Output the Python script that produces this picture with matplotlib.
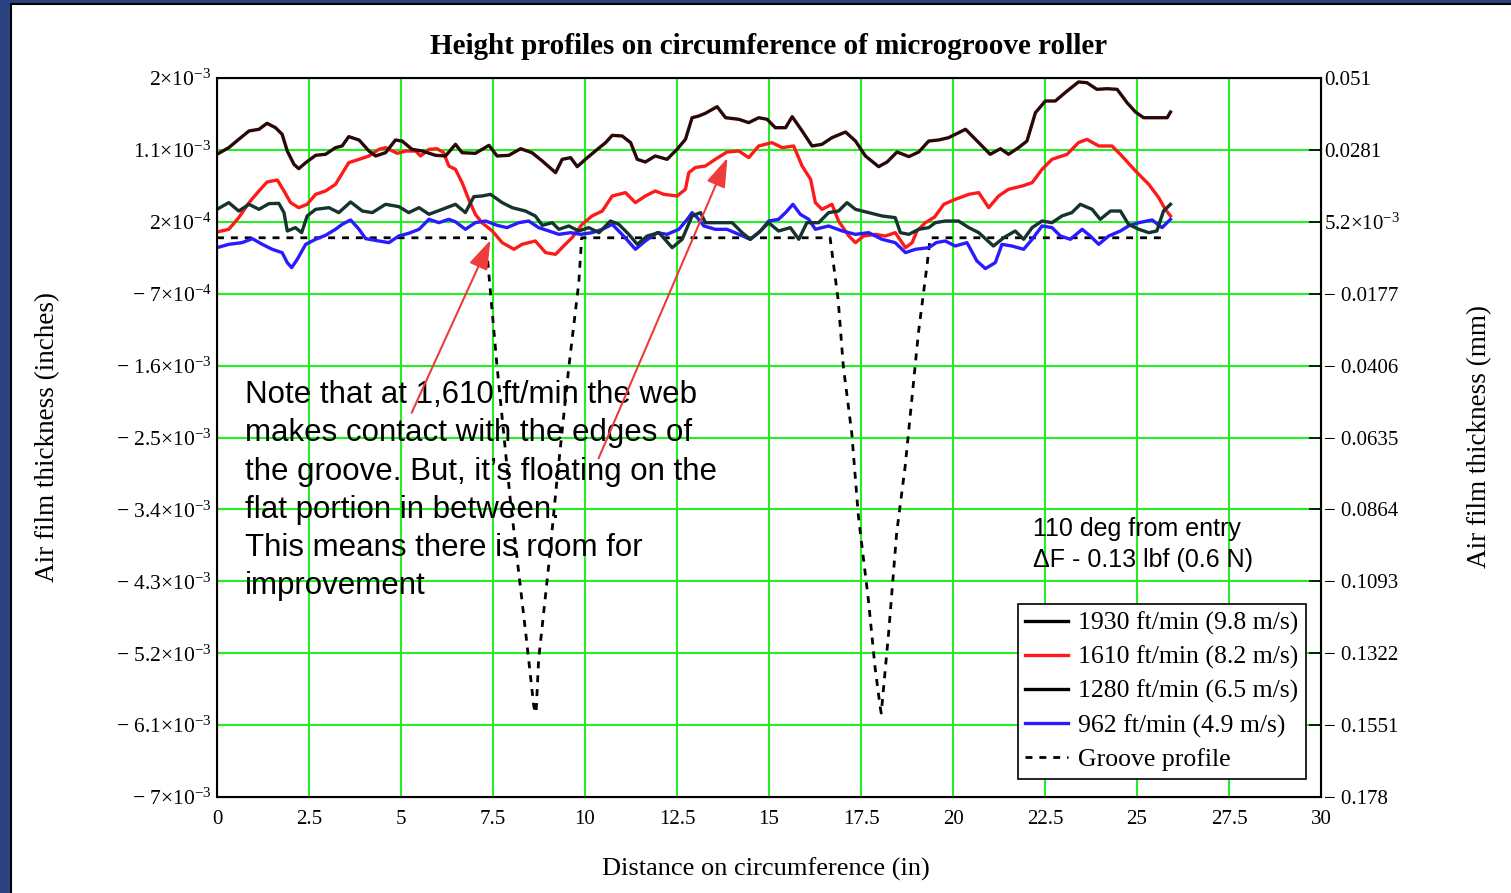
import matplotlib
matplotlib.use("Agg")
import matplotlib.pyplot as plt
from matplotlib.patches import Rectangle

plt.rcParams.update({
    "font.family": ["Liberation Serif", "DejaVu Serif"],
    "mathtext.fontset": "custom",
    "mathtext.rm": "Liberation Serif",
    "mathtext.it": "Liberation Serif:italic",
})

# values (x in inches, y in 1e-3 inch)
s1930_x = [0.0, 0.32, 0.59, 0.87, 1.14, 1.36, 1.59, 1.77, 1.91, 2.09, 2.22, 2.41, 2.68, 2.95, 3.22,
           3.40, 3.58, 3.86, 4.13, 4.31, 4.58, 4.85, 5.03, 5.30, 5.58, 5.94, 6.21, 6.48, 6.66, 7.02,
           7.39, 7.61, 7.93, 8.25, 8.56, 8.84, 9.20, 9.38, 9.61, 9.79, 10.01, 10.28, 10.56, 10.74, 11.01,
           11.24, 11.42, 11.64, 11.91, 12.23, 12.50, 12.73, 12.91, 13.09, 13.27, 13.59, 13.82, 14.18, 14.45, 14.72,
           14.95, 15.17, 15.45, 15.63, 15.90, 16.17, 16.44, 16.71, 17.08, 17.35, 17.62, 17.98, 18.21, 18.48, 18.80,
           19.07, 19.34, 19.61, 19.88, 20.34, 20.70, 21.01, 21.29, 21.51, 21.78, 22.01, 22.24, 22.51, 22.78, 23.10,
           23.41, 23.64, 23.91, 24.19, 24.46, 24.73, 24.96, 25.18, 25.50, 25.82, 25.91]
s1930_y = [1.045, 1.128, 1.232, 1.337, 1.358, 1.433, 1.378, 1.295, 1.086, 0.92, 0.865, 0.94, 1.032, 1.045, 1.128,
           1.149, 1.266, 1.224, 1.086, 1.024, 1.065, 1.224, 1.211, 1.107, 1.086, 1.032, 1.024, 1.17, 1.065, 1.057,
           1.157, 1.024, 1.032, 1.115, 1.065, 0.961, 0.815, 0.982, 1.003, 0.89, 0.982, 1.086, 1.191, 1.282, 1.274,
           1.191, 0.982, 0.949, 1.024, 0.982, 1.107, 1.232, 1.503, 1.524, 1.558, 1.641, 1.503, 1.483, 1.441, 1.503,
           1.483, 1.378, 1.378, 1.516, 1.337, 1.149, 1.17, 1.253, 1.324, 1.211, 1.024, 0.89, 0.949, 1.074, 1.016,
           1.074, 1.211, 1.224, 1.253, 1.358, 1.191, 1.045, 1.115, 1.045, 1.128, 1.211, 1.566, 1.712, 1.712, 1.837,
           1.95, 1.941, 1.858, 1.866, 1.858, 1.691, 1.574, 1.503, 1.503, 1.503, 1.574]

s1610_x = [0.0, 0.32, 0.59, 0.87, 1.14, 1.36, 1.64, 1.82, 2.0, 2.22, 2.45, 2.68, 2.95, 3.22, 3.58,
           3.86, 4.13, 4.40, 4.58, 4.90, 5.12, 5.40, 5.53, 5.76, 5.98, 6.16, 6.30, 6.48, 6.66, 6.84,
           7.02, 7.20, 7.48, 7.75, 8.07, 8.29, 8.65, 8.93, 9.20, 9.42, 9.65, 9.92, 10.19, 10.47, 10.74,
           11.10, 11.37, 11.64, 11.91, 12.14, 12.50, 12.73, 12.82, 13.0, 13.27, 13.54, 13.86, 14.18, 14.45, 14.72,
           15.08, 15.36, 15.67, 15.90, 16.13, 16.26, 16.44, 16.71, 16.89, 17.17, 17.35, 17.57, 17.89, 18.16, 18.43,
           18.71, 18.89, 19.02, 19.25, 19.50, 19.75, 20.06, 20.43, 20.70, 20.97, 21.24, 21.51, 21.88, 22.15, 22.42,
           22.69, 23.10, 23.41, 23.64, 23.96, 24.32, 24.59, 24.96, 25.32, 25.59, 25.77, 25.91]
s1610_y = [0.072, 0.106, 0.252, 0.44, 0.586, 0.698, 0.723, 0.586, 0.44, 0.377, 0.419, 0.544, 0.586, 0.669, 0.94,
           0.982, 1.024, 1.107, 1.128, 1.057, 1.086, 1.086, 1.024, 1.107, 1.115, 1.065, 0.898, 0.857, 0.69, 0.481,
           0.294, 0.189, 0.085, -0.061, -0.144, -0.082, -0.04, -0.186, -0.207, -0.103, 0.002, 0.168, 0.273, 0.335, 0.523,
           0.565, 0.44, 0.523, 0.586, 0.544, 0.523, 0.607, 0.815, 0.88, 0.898, 0.982, 1.074, 1.086, 1.003, 1.149,
           1.191, 1.128, 1.149, 0.898, 0.732, 0.44, 0.356, 0.419, 0.21, 0.022, -0.061, 0.022, 0.043, 0.022, 0.064,
           -0.124, -0.061, 0.085, 0.189, 0.26, 0.419, 0.481, 0.544, 0.565, 0.377, 0.523, 0.607, 0.648, 0.69, 0.857,
           0.982, 1.045, 1.191, 1.232, 1.149, 1.149, 1.024, 0.836, 0.669, 0.502, 0.356, 0.273]

s1280_x = [0.0, 0.32, 0.59, 0.87, 1.14, 1.41, 1.68, 1.82, 1.91, 2.13, 2.30, 2.45, 2.68, 3.04, 3.31,
           3.63, 3.95, 4.22, 4.58, 4.94, 5.21, 5.49, 5.76, 6.12, 6.48, 6.75, 6.98, 7.20, 7.43, 7.75,
           8.02, 8.38, 8.65, 8.84, 9.11, 9.29, 9.56, 9.83, 10.10, 10.38, 10.69, 10.92, 11.19, 11.42, 11.69,
           12.01, 12.37, 12.64, 12.91, 13.14, 13.27, 13.63, 14.0, 14.27, 14.49, 14.72, 14.99, 15.26, 15.58, 15.81,
           16.03, 16.35, 16.62, 16.89, 17.12, 17.35, 17.71, 18.07, 18.43, 18.57, 18.80, 19.07, 19.34, 19.52, 19.79,
           20.15, 20.43, 20.70, 21.10, 21.38, 21.69, 21.92, 22.15, 22.42, 22.69, 22.96, 23.23, 23.46, 23.78, 24.0,
           24.28, 24.55, 24.77, 25.05, 25.32, 25.54, 25.72, 25.91]
s1280_y = [0.356, 0.44, 0.335, 0.419, 0.356, 0.427, 0.431, 0.315, 0.085, 0.127, 0.064, 0.273, 0.356, 0.377, 0.315,
           0.448, 0.335, 0.315, 0.419, 0.39, 0.315, 0.377, 0.294, 0.356, 0.419, 0.315, 0.515, 0.523, 0.544, 0.44,
           0.377, 0.335, 0.273, 0.156, 0.189, 0.106, 0.148, 0.085, 0.127, 0.064, 0.21, 0.168, 0.043, -0.082, 0.022,
           0.064, -0.124, -0.019, 0.273, 0.315, 0.189, 0.189, 0.189, 0.064, -0.019, 0.064, 0.189, 0.085, 0.127, -0.019,
           0.189, 0.189, 0.315, 0.335, 0.44, 0.356, 0.315, 0.273, 0.252, 0.064, 0.043, 0.106, 0.127, 0.189, 0.21,
           0.21, 0.127, 0.064, -0.103, 0.002, 0.085, -0.019, 0.127, 0.21, 0.189, 0.273, 0.315, 0.419, 0.356, 0.231,
           0.335, 0.335, 0.168, 0.106, 0.064, 0.085, 0.335, 0.419]

s962_x = [0.0, 0.32, 0.68, 0.96, 1.23, 1.50, 1.77, 1.91, 2.03, 2.18, 2.41, 2.68, 2.95, 3.22, 3.40,
          3.63, 3.86, 4.04, 4.40, 4.67, 4.94, 5.21, 5.49, 5.76, 6.03, 6.30, 6.48, 6.75, 7.02, 7.30,
          7.61, 7.88, 8.20, 8.47, 8.74, 9.02, 9.29, 9.61, 9.88, 10.19, 10.47, 10.74, 11.05, 11.37, 11.64,
          11.96, 12.23, 12.55, 12.78, 12.91, 13.05, 13.23, 13.54, 13.86, 14.18, 14.49, 14.77, 14.99, 15.26, 15.45,
          15.65, 15.85, 16.08, 16.26, 16.62, 16.99, 17.35, 17.71, 18.07, 18.43, 18.71, 18.98, 19.34, 19.55, 19.79,
          20.06, 20.38, 20.65, 20.88, 21.15, 21.33, 21.60, 21.92, 22.15, 22.42, 22.69, 22.92, 23.19, 23.51, 23.73,
          23.96, 24.23, 24.55, 24.77, 25.05, 25.41, 25.68, 25.91]
s962_y = [-0.124, -0.082, -0.061, -0.011, -0.082, -0.144, -0.186, -0.311, -0.374, -0.27, -0.082, -0.019, 0.031, 0.106, 0.168,
          0.223, 0.106, -0.011, -0.04, -0.061, 0.022, 0.056, 0.106, 0.231, 0.189, 0.231, 0.2, 0.106, 0.189, 0.21,
          0.156, 0.127, 0.189, 0.21, 0.127, 0.085, 0.043, 0.064, 0.043, 0.064, 0.106, 0.168, 0.022, -0.144, -0.04,
          0.064, 0.043, 0.106, 0.231, 0.315, 0.252, 0.148, 0.106, 0.106, 0.043, -0.019, 0.085, 0.21, 0.231, 0.315,
          0.419, 0.294, 0.231, 0.106, 0.148, 0.085, 0.043, 0.064, -0.019, -0.061, -0.186, -0.144, -0.124, -0.06, -0.04,
          -0.103, -0.061, -0.29, -0.386, -0.311, -0.082, -0.103, -0.144, -0.019, 0.148, 0.127, 0.022, -0.019, 0.106, 0.022,
          -0.082, 0.022, 0.085, 0.148, 0.189, 0.223, 0.127, 0.231]

groove_x = [0.0, 7.30, 7.61, 7.97, 8.39, 8.61, 8.67, 8.74, 9.01, 9.23, 9.56, 9.83, 9.91,
            16.66, 16.88, 17.02, 17.25, 17.43, 17.70, 17.88, 18.02, 18.05, 18.25, 18.47, 18.70, 18.88,
            19.06, 19.29, 19.38, 25.82]
groove_y = [0.0, 0.0, -1.61, -3.28, -4.95, -5.87, -5.95, -5.28, -4.12, -3.07, -1.62, -0.57, 0.0,
            0.0, -0.78, -1.61, -2.45, -3.49, -4.53, -5.37, -5.87, -5.95, -4.95, -3.69, -2.86, -2.03,
            -1.19, -0.36, 0.0, 0.0]

series_labels = ["1930 ft/min (9.8 m/s)", "1610 ft/min (8.2 m/s)",
                 "1280 ft/min (6.5 m/s)", "962 ft/min (4.9 m/s)", "Groove profile"]
legend_colors = ["black", "#ff1a1a", "black", "#2a1aff"]

y_ticks = [2.0, 1.1, 0.2, -0.7, -1.6, -2.5, -3.4, -4.3, -5.2, -6.1, -7.0]
y_labels_in = ["2×10$^{-3}$", "1.1×10$^{-3}$", "2×10$^{-4}$", "− 7×10$^{-4}$", "− 1.6×10$^{-3}$",
               "− 2.5×10$^{-3}$", "− 3.4×10$^{-3}$", "− 4.3×10$^{-3}$", "− 5.2×10$^{-3}$",
               "− 6.1×10$^{-3}$", "− 7×10$^{-3}$"]
y_labels_mm = ["0.051", "0.0281", "5.2×10$^{-3}$", "− 0.0177", "− 0.0406", "− 0.0635", "− 0.0864",
               "− 0.1093", "− 0.1322", "− 0.1551", "− 0.178"]
x_ticks = [0, 2.5, 5, 7.5, 10, 12.5, 15, 17.5, 20, 22.5, 25, 27.5, 30]
x_labels = ["0", "2.5", "5", "7.5", "10", "12.5", "15", "17.5", "20", "22.5", "25", "27.5", "30"]

W, H = 1511, 893
fig = plt.figure(figsize=(W / 100, H / 100), dpi=100)
fig.patch.set_facecolor("#2d4381")
fig.add_artist(Rectangle((11 / W, -0.02), 1.05, 1.02 - 4 / H, transform=fig.transFigure,
                         facecolor="white", edgecolor="black", linewidth=1.5, zorder=0))

ax = fig.add_axes([217 / W, 1 - 797 / H, (1321 - 217) / W, (797 - 78) / H])
ax.set_xlim(0, 30)
ax.set_ylim(-7, 2)

ax.plot(s1930_x, s1930_y, color="#2a0808", lw=2.4, label=series_labels[0], zorder=4)
ax.plot(s1610_x, s1610_y, color="#ff1a1a", lw=2.4, label=series_labels[1], zorder=3)
ax.plot(s1280_x, s1280_y, color="#15332f", lw=2.4, label=series_labels[2], zorder=4)
ax.plot(s962_x, s962_y, color="#2a1aff", lw=2.4, label=series_labels[3], zorder=3)
ax.plot(groove_x, groove_y, color="black", lw=2.0, ls=(0, (2.5, 2.5)), label=series_labels[4], zorder=2)

ax.set_xticks(x_ticks)
ax.set_xticklabels(x_labels, fontsize=15)
ax.set_yticks(y_ticks)
ax.set_yticklabels(y_labels_in, fontsize=15.5)
ax.tick_params(axis="y", length=0, pad=4)
ax.tick_params(axis="x", length=0, pad=9)
ax.grid(True, color="#22ee22", lw=1.5, zorder=1)
for sp in ax.spines.values():
    sp.set_linewidth(1.5)

ax2 = ax.twinx()
ax2.set_ylim(ax.get_ylim())
ax2.set_yticks(y_ticks)
ax2.set_yticklabels(y_labels_mm, fontsize=15)
ax2.tick_params(axis="y", direction="in", length=9, width=1.2, pad=2)

ax.set_title("Height profiles on circumference of microgroove roller", fontsize=21,
             fontweight="bold", pad=17)
fig.text(48 / W, 1 - 437 / H, "Air film thickness (inches)", rotation=90, ha="center",
         va="center", fontsize=19.5)
fig.text(1480 / W, 1 - 437 / H, "Air film thickness (mm)", rotation=90, ha="center",
         va="center", fontsize=19.5)
fig.text(766 / W, 1 - 869 / H, "Distance on circumference (in)", ha="center", va="center",
         fontsize=19)

note = ("Note that at 1,610 ft/min the web\nmakes contact with the edges of\n"
        "the groove. But, it\u2019s floating on the\nflat portion in between.\n"
        "This means there is room for\nimprovement")
ax.text(0.025, 0.580, note, transform=ax.transAxes, ha="left", va="top", fontsize=22.5,
        family="Liberation Sans", linespacing=1.36, zorder=6)
ax.text(0.739, 0.389, "110 deg from entry\n\u0394F - 0.13 lbf (0.6 N)", transform=ax.transAxes,
        ha="left", va="top", fontsize=18, family="Liberation Sans", linespacing=1.33, zorder=6)

arrow_kw = dict(arrowstyle="-|>,head_length=0.9,head_width=0.3", color="#ee3b3b", lw=1.5,
                mutation_scale=20, shrinkA=0, shrinkB=0)
ax.annotate("", xy=(7.43, -0.03), xytext=(5.29, -2.19), arrowprops=arrow_kw, zorder=6)
ax.annotate("", xy=(13.87, 1.0), xytext=(10.37, -2.76), arrowprops=arrow_kw, zorder=6)

leg = ax.legend(loc="lower right", bbox_to_anchor=(0.9864, 0.025), fontsize=18.5, frameon=True,
                fancybox=False, edgecolor="black", framealpha=1, handlelength=1.65,
                borderpad=0.3, labelspacing=0.42, handletextpad=0.4, borderaxespad=0)
leg.get_frame().set_linewidth(1.2)
leg.set_zorder(7)
for h, c in zip(leg.get_lines()[:4], legend_colors):
    h.set_color(c)

fig.savefig("out.png", dpi=100, facecolor=fig.get_facecolor())
